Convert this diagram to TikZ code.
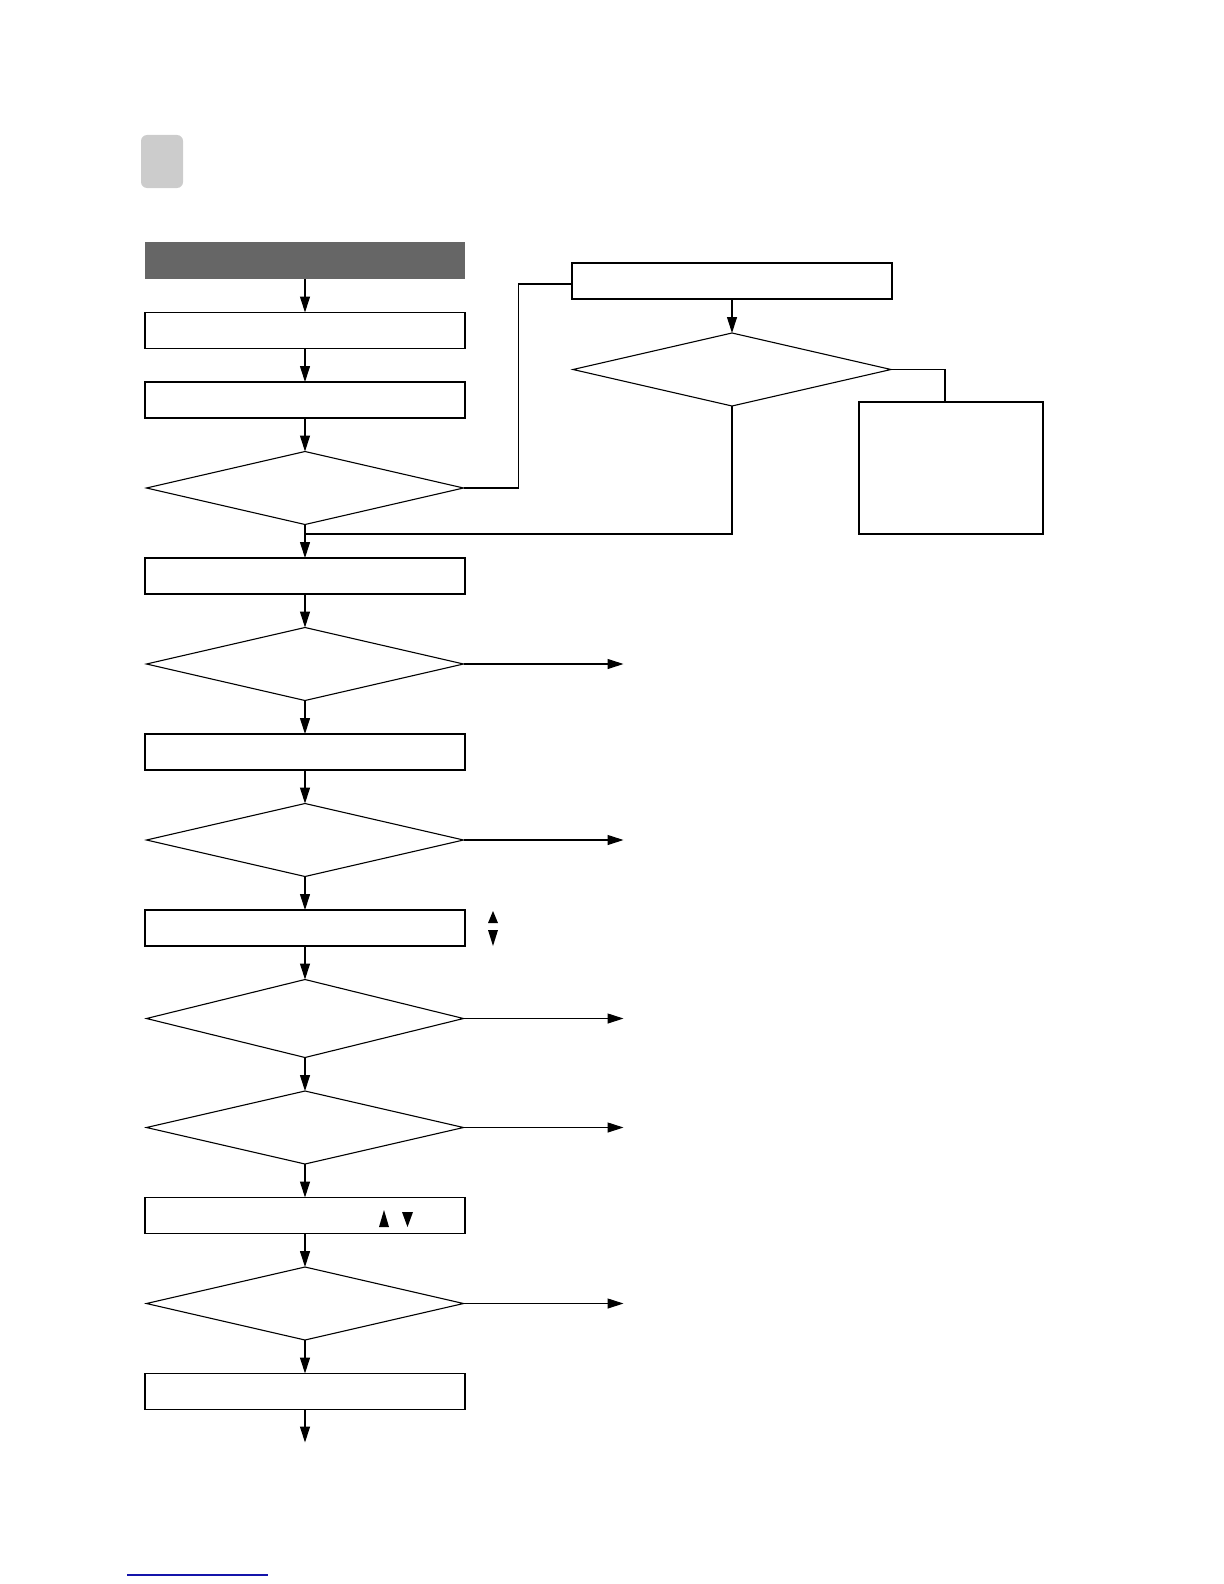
\documentclass[tikz,border=0pt]{standalone}
\usetikzlibrary{arrows.meta,positioning,shapes.geometric}
\definecolor{headgray}{RGB}{102,102,102}
\definecolor{tabgray}{RGB}{204,204,204}
\definecolor{linkblue}{RGB}{20,20,170}

\begin{document}
\begin{tikzpicture}[
  x=0.5pt, y=-0.5pt,
  >={Triangle[length=8pt,width=5pt]},
  node distance=16.75pt,
  stepbox/.style={
    rectangle,
    draw,
    line width=0.55pt,
    minimum width=160pt,
    minimum height=18pt,
    inner sep=0pt,
    outer sep=0pt
  },
  headbox/.style={
    rectangle,
    fill=headgray,
    minimum width=160pt,
    minimum height=18.5pt,
    inner sep=0pt,
    outer sep=0pt
  },
  query/.style={
    diamond,
    draw,
    line width=0.55pt,
    minimum width=158.5pt,
    minimum height=#1,
    inner sep=0pt,
    outer sep=0pt
  },
  query/.default=36.5pt,
  tab/.style={
    rectangle,
    rounded corners=3pt,
    fill=tabgray,
    minimum width=21pt,
    minimum height=26.5pt,
    inner sep=0pt
  },
  arrow/.style={->, line width=0.55pt},
  wire/.style={line width=0.55pt}
]
\useasboundingbox (0,0) rectangle (1224,1584);

\node[tab] (tab) at (162,161.5) {};

% main column
\node[headbox] (head) at (305,260.5) {};
\node[stepbox, below=of head] (s1) {};
\node[stepbox, below=of s1] (s2) {};
\node[query, below=of s2] (d1) {};
\node[stepbox, below=of d1] (s3) {};
\node[query, below=of s3] (d2) {};
\node[stepbox, below=of d2] (s4) {};
\node[query, below=of s4] (d3) {};
\node[stepbox, below=of d3] (s5) {};
\node[query=39pt, below=of s5] (d4) {};
\node[query, below=of d4] (d5) {};
\node[stepbox, below=of d5] (s6) {};
\node[query, below=of s6] (d6) {};
\node[stepbox, below=of d6] (s7) {};
\coordinate[below=16.5pt of s7.south] (end);

% side branch
\node[stepbox] (r1) at (732,281) {};
\node[query=36.5pt, minimum width=159pt, below=17pt of r1] (dr) {};
\node[stepbox, minimum width=92pt, minimum height=66pt] (r2) at (951,468) {};
\coordinate (join) at (d1.south |- r2.south);

\draw[arrow] (head) -- (s1);
\draw[arrow] (s1) -- (s2);
\draw[arrow] (s2) -- (d1);
\draw[arrow] (d1) -- (s3);
\draw[arrow] (s3) -- (d2);
\draw[arrow] (d2) -- (s4);
\draw[arrow] (s4) -- (d3);
\draw[arrow] (d3) -- (s5);
\draw[arrow] (s5) -- (d4);
\draw[arrow] (d4) -- (d5);
\draw[arrow] (d5) -- (s6);
\draw[arrow] (s6) -- (d6);
\draw[arrow] (d6) -- (s7);
\draw[arrow] (s7) -- (end);

\draw[wire] (d1.east) -- ++(55,0) |- ([yshift=-1.5pt]r1.west);
\draw[arrow] (r1) -- (dr);
\draw[wire] (dr.east) -| ([xshift=-3pt]r2.north);
\draw[wire] (dr.south) |- (join);

% exits to the right
\foreach \q in {d2,d3,d4,d5,d6}{
  \coordinate[right=80pt of \q.east] (\q-out);
  \draw[arrow] (\q.east) -- (\q-out);
}

% up / down marks
\fill (488,923) -- (493,911) -- (498,923) -- cycle;
\fill (488,930) -- (493,946) -- (498,930) -- cycle;
\fill (379,1227) -- (384,1210) -- (389,1227) -- cycle;
\fill (402,1212) -- (407.5,1227) -- (413,1212) -- cycle;

\draw[linkblue, line width=0.6pt] (127,1575) -- (268,1575);

\end{tikzpicture}
\end{document}
